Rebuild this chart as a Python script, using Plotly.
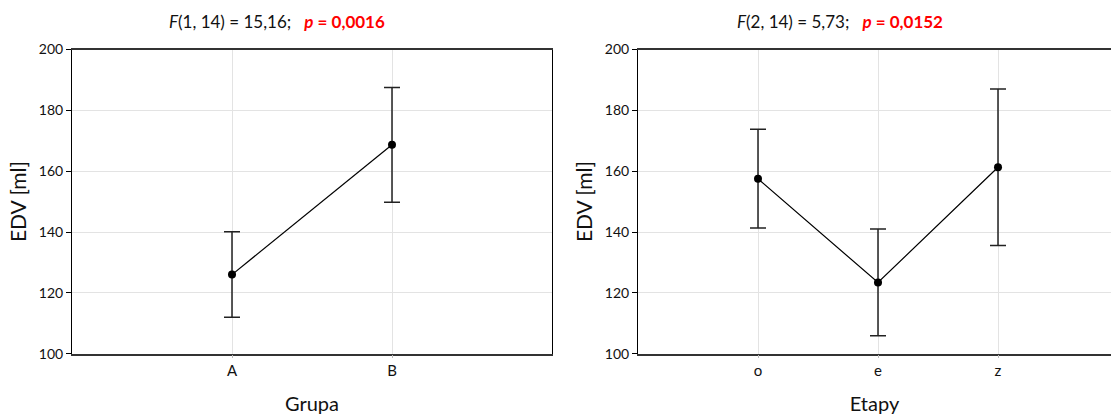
import plotly.graph_objects as go

# Data
groups = ["A", "B"]
group_means = [126.0, 168.7]
group_upper = [140.1, 187.5]
group_lower = [112.0, 149.8]

stages = ["o", "e", "z"]
stage_means = [157.5, 123.4, 161.3]
stage_upper = [173.8, 141.0, 187.0]
stage_lower = [141.3, 105.9, 135.6]

y_ticks = [100, 120, 140, 160, 180, 200]
minor_ticks = [110, 130, 150, 170, 190]

title_left = "<i>F</i>(1, 14) = 15,16;\u00a0\u00a0\u00a0<span style='color:#ff0000'><b><i>p</i> = 0,0016</b></span>"
title_right = "<i>F</i>(2, 14) = 5,73;\u00a0\u00a0\u00a0<span style='color:#ff0000'><b><i>p</i> = 0,0152</b></span>"

FONT = "Lato"
W, H = 1111, 415


def err(means, upper, lower):
    return dict(
        type="data",
        symmetric=False,
        array=[u - m for u, m in zip(upper, means)],
        arrayminus=[m - l for m, l in zip(means, lower)],
        color="#222222",
        thickness=1.5,
        width=8,
    )


fig = go.Figure()
fig.add_trace(go.Scatter(
    x=groups, y=group_means, mode="lines+markers",
    line=dict(color="black", width=1.2),
    marker=dict(color="black", size=8),
    error_y=err(group_means, group_upper, group_lower),
    xaxis="x", yaxis="y", showlegend=False,
))
fig.add_trace(go.Scatter(
    x=stages, y=stage_means, mode="lines+markers",
    line=dict(color="black", width=1.2),
    marker=dict(color="black", size=8),
    error_y=err(stage_means, stage_upper, stage_lower),
    xaxis="x2", yaxis="y2", showlegend=False,
))

ydom = [1 - 353.7 / H, 1 - 49.5 / H]
xdom1 = [72 / W, 552 / W]
xdom2 = [638 / W, 1.0]

common_y = dict(
    range=[100, 200], tickvals=y_ticks, showgrid=True, gridcolor="#e3e3e3", gridwidth=1,
    showline=True, linecolor="black", linewidth=1, mirror=True,
    ticks="outside", ticklen=5, tickcolor="black", zeroline=False,
    tickfont=dict(family=FONT, size=14, color="#111111"),
    title=dict(text="EDV [ml]", font=dict(family=FONT, size=21, color="#111111"), standoff=6),
    domain=ydom, automargin=False,
)
common_x = dict(
    showgrid=True, gridcolor="#e3e3e3", gridwidth=1,
    showline=True, linecolor="#333333", linewidth=1.5, mirror=True,
    ticks="outside", ticklen=3, tickcolor="#bbbbbb", zeroline=False,
    tickfont=dict(family=FONT, size=15, color="#111111"),
    type="category", automargin=False,
)

fig.update_layout(
    width=W, height=H,
    margin=dict(l=0, r=0, t=0, b=0),
    paper_bgcolor="white", plot_bgcolor="white",
    font=dict(family=FONT, color="#111111"),
    xaxis=dict(common_x, domain=xdom1, range=[-1, 2], anchor="y",
               title=dict(text="Grupa", font=dict(family=FONT, size=20), standoff=19)),
    yaxis=dict(common_y, anchor="x"),
    xaxis2=dict(common_x, domain=xdom2, range=[-1, 2.9417], anchor="y2",
                title=dict(text="Etapy", font=dict(family=FONT, size=20), standoff=19)),
    yaxis2=dict(common_y, anchor="x2"),
    yaxis3=dict(range=[100, 200], overlaying="y", side="right", anchor="x",
                tickvals=minor_ticks, ticks="inside", ticklen=5, tickcolor="black",
                showticklabels=False, showgrid=False, zeroline=False, showline=False,
                automargin=False),
    annotations=[
        dict(text=title_left, x=277 / W, y=1 - 22 / H, xref="paper", yref="paper",
             xanchor="center", yanchor="middle",
             showarrow=False, font=dict(family=FONT, size=17, color="#111111")),
        dict(text=title_right, x=840 / W, y=1 - 22 / H, xref="paper", yref="paper",
             xanchor="center", yanchor="middle",
             showarrow=False, font=dict(family=FONT, size=17, color="#111111")),
    ],
)

fig.write_html("out.html")
